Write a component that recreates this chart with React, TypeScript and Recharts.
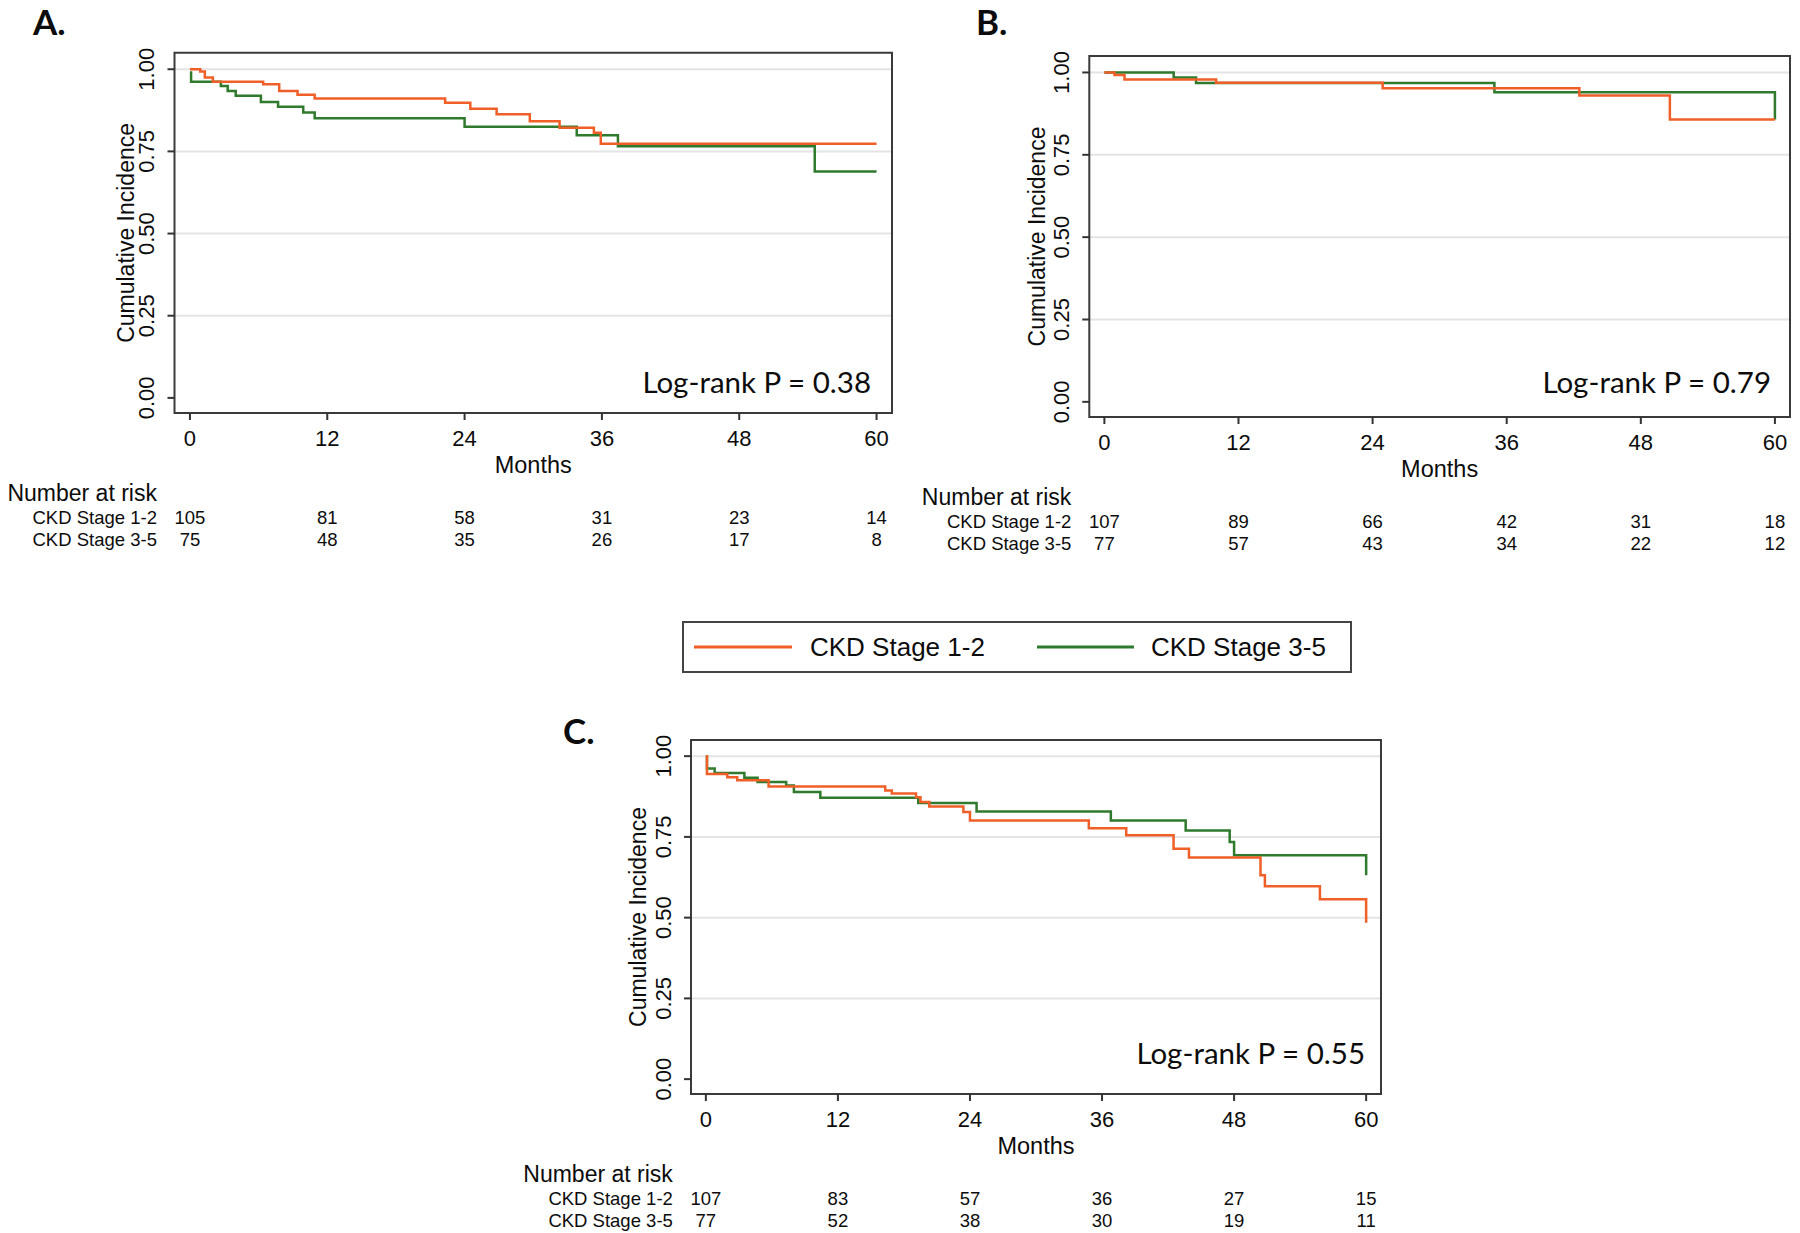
import React from "react";
import { LineChart, Line, XAxis, YAxis, CartesianGrid, ReferenceArea } from "recharts";

const monthTicks = [0, 12, 24, 36, 48, 60];
const incidenceTicks = [0, 0.25, 0.5, 0.75, 1];
const gridValues = [0.25, 0.5, 0.75, 1];
const groupLabels = ["CKD Stage 1-2", "CKD Stage 3-5"];
const panelLetters = ["A.", "B.", "C."];
const pValues = ["0.38", "0.79", "0.55"];

// A.
const aMonths12 = [0, 0.9, 1.3, 2.0, 6.4, 7.8, 9.4, 10.9, 22.3, 24.5, 26.8, 29.7, 32.3, 35.3, 35.9, 60];
const aIncid12 = [1.0, 0.993, 0.975, 0.962, 0.954, 0.934, 0.922, 0.911, 0.898, 0.88, 0.863, 0.842, 0.822, 0.807, 0.773, 0.773];
const aMonths35 = [0, 0.1, 2.7, 3.3, 4.0, 6.2, 7.7, 9.9, 10.9, 24.0, 33.8, 37.4, 54.6, 60];
const aIncid35 = [0.99, 0.962, 0.949, 0.934, 0.919, 0.9, 0.886, 0.868, 0.851, 0.825, 0.799, 0.766, 0.689, 0.689];
const aRisk12 = [105, 81, 58, 31, 23, 14];
const aRisk35 = [75, 48, 35, 26, 17, 8];

// B.
const bMonths12 = [0, 0.9, 1.8, 10.0, 24.9, 42.5, 50.6, 60];
const bIncid12 = [1.0, 0.992, 0.979, 0.969, 0.952, 0.93, 0.857, 0.857];
const bMonths35 = [0, 6.2, 8.2, 34.9, 60];
const bIncid35 = [1.0, 0.985, 0.968, 0.94, 0.857];
const bRisk12 = [107, 89, 66, 42, 31, 18];
const bRisk35 = [77, 57, 43, 34, 22, 12];

// C.
const cMonths12 = [0, 0.1, 1.95, 2.85, 5.7, 16.3, 16.9, 19.1, 19.5, 20.3, 23.4, 24.0, 34.8, 38.2, 42.5, 43.9, 50.4, 50.8, 55.8, 60];
const cIncid12 = [1.0, 0.945, 0.935, 0.925, 0.906, 0.894, 0.884, 0.873, 0.858, 0.844, 0.827, 0.801, 0.777, 0.755, 0.713, 0.686, 0.631, 0.597, 0.557, 0.484];
const cMonths35 = [0, 0.1, 0.8, 3.5, 4.7, 7.3, 8.0, 10.4, 19.3, 24.6, 36.8, 43.6, 47.6, 48.0, 60];
const cIncid35 = [1.0, 0.962, 0.948, 0.933, 0.92, 0.909, 0.889, 0.871, 0.855, 0.829, 0.801, 0.77, 0.734, 0.693, 0.631];
const cRisk12 = [107, 83, 57, 36, 27, 15];
const cRisk35 = [77, 52, 38, 30, 19, 11];

const ORANGE = "#f05f28";
const GREEN = "#2f7a2c";
const INK = "#0c0c0c";
const SANS = '"Liberation Sans", Arial, Helvetica, sans-serif';
const CAL = 'Lato, "Open Sans", sans-serif';

const X_DOMAIN: [number, number] = [-1.35, 61.35];
const Y_DOMAIN: [number, number] = [-0.046, 1.05];

const toPoints = (months: number[], values: number[]) =>
  months.map((t, i) => ({ t, v: values[i] }));

type PanelProps = {
  left: number;
  top: number;
  width: number;
  height: number;
  marginTop: number;
  marginRight: number;
  yAxisWidth: number;
  xAxisHeight: number;
  yLabelOffset: number;
  months12: number[];
  incid12: number[];
  months35: number[];
  incid35: number[];
  risk12: number[];
  risk35: number[];
};

function KmPanel(p: PanelProps) {
  const monthTick = (t: any) => {
    const { x, y, payload, index } = t;
    const bb = y - 9; // bottom of the frame
    return (
      <g fill={INK} fontFamily={SANS}>
        <text x={x} y={bb + 25.5} dy="0.36em" textAnchor="middle" fontSize={22}>
          {payload.value}
        </text>
        <text x={x} y={bb + 104} dy="0.36em" textAnchor="middle" fontSize={18.5}>
          {p.risk12[index]}
        </text>
        <text x={x} y={bb + 126} dy="0.36em" textAnchor="middle" fontSize={18.5}>
          {p.risk35[index]}
        </text>
        {index === 0 && (
          <>
            <text x={x - 33} y={bb + 80} dy="0.36em" textAnchor="end" fontSize={23}>
              Number at risk
            </text>
            <text x={x - 33} y={bb + 104} dy="0.36em" textAnchor="end" fontSize={18.5}>
              {groupLabels[0]}
            </text>
            <text x={x - 33} y={bb + 126} dy="0.36em" textAnchor="end" fontSize={18.5}>
              {groupLabels[1]}
            </text>
          </>
        )}
      </g>
    );
  };

  const incidenceTick = (t: any) => {
    const { x, y, payload } = t;
    const cx = x - 19;
    return (
      <text
        x={cx}
        y={y}
        dy="0.36em"
        transform={`rotate(-90, ${cx}, ${y})`}
        textAnchor="middle"
        fontSize={22}
        fontFamily={SANS}
        fill={INK}
      >
        {Number(payload.value).toFixed(2)}
      </text>
    );
  };

  return (
    <div style={{ position: "absolute", left: p.left, top: p.top }}>
      <LineChart
        width={p.width}
        height={p.height}
        margin={{ top: p.marginTop, right: p.marginRight, left: 0, bottom: 0 }}
      >
        <CartesianGrid vertical={false} horizontalValues={gridValues} stroke="#e4e4e4" strokeWidth={2} />
        <XAxis
          dataKey="t"
          type="number"
          domain={X_DOMAIN}
          ticks={monthTicks}
          interval={0}
          height={p.xAxisHeight}
          axisLine={false}
          tickLine={{ stroke: "#333", strokeWidth: 2 }}
          tickSize={7}
          tickMargin={2}
          tick={monthTick}
          label={{ value: "Months", position: "insideTop", offset: 43, fontSize: 23.5, fill: INK, fontFamily: SANS }}
        />
        <YAxis
          type="number"
          domain={Y_DOMAIN}
          ticks={incidenceTicks}
          interval={0}
          width={p.yAxisWidth}
          axisLine={false}
          tickLine={{ stroke: "#333", strokeWidth: 2 }}
          tickSize={7}
          tickMargin={2}
          tick={incidenceTick}
          label={{
            value: "Cumulative Incidence",
            angle: -90,
            position: "insideLeft",
            offset: p.yLabelOffset,
            style: { textAnchor: "middle" },
            fontSize: 23,
            fill: INK,
            fontFamily: SANS,
          }}
        />
        <ReferenceArea
          x1={X_DOMAIN[0]}
          x2={X_DOMAIN[1]}
          y1={Y_DOMAIN[0]}
          y2={Y_DOMAIN[1]}
          fill="none"
          fillOpacity={0}
          stroke="#3a3a3a"
          strokeWidth={2}
        />
        <Line
          data={toPoints(p.months35, p.incid35)}
          dataKey="v"
          name={groupLabels[1]}
          type="stepAfter"
          stroke={GREEN}
          strokeWidth={2.5}
          dot={false}
          activeDot={false}
          isAnimationActive={false}
        />
        <Line
          data={toPoints(p.months12, p.incid12)}
          dataKey="v"
          name={groupLabels[0]}
          type="stepAfter"
          stroke={ORANGE}
          strokeWidth={2.5}
          dot={false}
          activeDot={false}
          isAnimationActive={false}
        />
      </LineChart>
    </div>
  );
}

export default function App() {
  return (
    <div style={{ position: "absolute", left: 0, top: 0, width: 1800, height: 1233, background: "#fff" }}>
      <KmPanel
        left={0}
        top={0}
        width={900}
        height={560}
        marginTop={52.8}
        marginRight={8}
        yAxisWidth={174.5}
        xAxisHeight={147}
        yLabelOffset={126}
        months12={aMonths12}
        incid12={aIncid12}
        months35={aMonths35}
        incid35={aIncid35}
        risk12={aRisk12}
        risk35={aRisk35}
      />
      <KmPanel
        left={880}
        top={0}
        width={920}
        height={560}
        marginTop={56}
        marginRight={10}
        yAxisWidth={209.3}
        xAxisHeight={143}
        yLabelOffset={156.6}
        months12={bMonths12}
        incid12={bIncid12}
        months35={bMonths35}
        incid35={bIncid35}
        risk12={bRisk12}
        risk35={bRisk35}
      />
      <KmPanel
        left={500}
        top={600}
        width={900}
        height={633}
        marginTop={140}
        marginRight={19}
        yAxisWidth={191}
        xAxisHeight={139}
        yLabelOffset={138.3}
        months12={cMonths12}
        incid12={cIncid12}
        months35={cMonths35}
        incid35={cIncid35}
        risk12={cRisk12}
        risk35={cRisk35}
      />
      <svg
        width={1800}
        height={1233}
        style={{ position: "absolute", left: 0, top: 0, pointerEvents: "none" }}
      >
        <g fontFamily={CAL} fill={INK}>
          <g fontWeight="bold" fontSize={35}>
            <text x={33} y={34.8}>{panelLetters[0]}</text>
            <text x={976} y={34.8}>{panelLetters[1]}</text>
            <text x={563} y={744}>{panelLetters[2]}</text>
          </g>
          <g fontSize={29.5} textAnchor="end">
            <text x={871} y={392.5}>Log-rank P = {pValues[0]}</text>
            <text x={1771} y={393}>Log-rank P = {pValues[1]}</text>
            <text x={1365} y={1064}>Log-rank P = {pValues[2]}</text>
          </g>
        </g>
        <rect x={683} y={622} width={668} height={50} fill="#fff" stroke="#444" strokeWidth={2} />
        <line x1={694} y1={647} x2={792} y2={647} stroke={ORANGE} strokeWidth={3} />
        <line x1={1037} y1={647} x2={1134} y2={647} stroke={GREEN} strokeWidth={3} />
        <g fontFamily={SANS} fontSize={26} fill={INK}>
          <text x={810} y={647} dy="0.36em">{groupLabels[0]}</text>
          <text x={1151} y={647} dy="0.36em">{groupLabels[1]}</text>
        </g>
      </svg>
    </div>
  );
}
